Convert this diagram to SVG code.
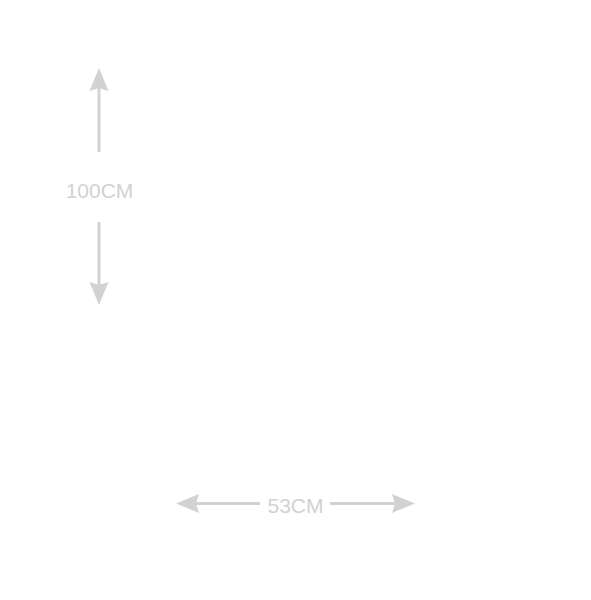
<svg xmlns="http://www.w3.org/2000/svg" width="591" height="600" viewBox="0 0 591 600">
<style>
.dim{stroke:#d2d2d2;stroke-width:3;fill:none}
.head{fill:#d2d2d2}
.lbl{font-family:"Liberation Sans",Arial,sans-serif;font-size:21px;fill:#d2d2d2;text-anchor:middle}
</style>
<rect width="591" height="600" fill="#ffffff"/>
<g id="height-dimension">
<line class="dim" x1="99" y1="88" x2="99" y2="152"/>
<polygon class="head" points="99,68 108.5,91 99,88 89.5,91"/>
<text class="lbl" x="99.5" y="197.5">100CM</text>
<line class="dim" x1="99" y1="222" x2="99" y2="286"/>
<polygon class="head" points="99,305 108.5,282 99,285 89.5,282"/>
</g>
<g id="width-dimension">
<line class="dim" x1="196" y1="503.5" x2="260" y2="503.5"/>
<polygon class="head" points="176,503.5 199,494 196,503.5 199,513"/>
<text class="lbl" x="295.5" y="513">53CM</text>
<line class="dim" x1="330" y1="503.5" x2="395" y2="503.5"/>
<polygon class="head" points="415,503.5 392,494 395,503.5 392,513"/>
</g>
</svg>
